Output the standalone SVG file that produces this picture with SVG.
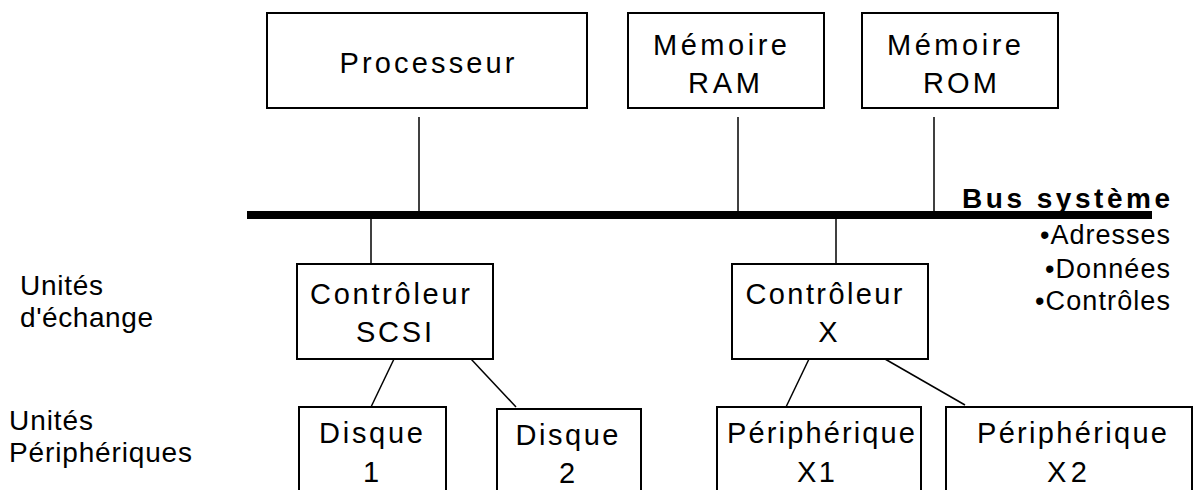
<svg xmlns="http://www.w3.org/2000/svg" width="1194" height="490" viewBox="0 0 1194 490">
  <style>
    .box { fill: #ffffff; stroke: #000000; stroke-width: 2; }
    .wire { stroke: #000000; stroke-width: 1.5; fill: none; }
    .bus { stroke: #000000; stroke-width: 8; fill: none; }
    .t { font-family: "Liberation Sans", Arial, sans-serif; font-size: 29px; fill: #000000; text-anchor: middle; }
    .side { font-family: "Liberation Sans", Arial, sans-serif; font-size: 28px; fill: #000000; }
    .list { font-family: "Liberation Sans", Arial, sans-serif; font-size: 27px; fill: #000000; }
    .title { font-family: "Liberation Sans", Arial, sans-serif; font-size: 28px; font-weight: bold; fill: #000000; }
  </style>
  <rect width="1194" height="490" fill="#ffffff"/>

  <!-- connectors: system bus and links -->
  <g id="connectors">
    <line class="bus" x1="247" y1="215" x2="1152" y2="215"/>
    <line class="wire" x1="419" y1="117" x2="419" y2="211"/>
    <line class="wire" x1="738" y1="117" x2="738" y2="211"/>
    <line class="wire" x1="934" y1="117" x2="934" y2="211"/>
    <line class="wire" x1="371" y1="219" x2="371" y2="264"/>
    <line class="wire" x1="836" y1="219" x2="836" y2="264"/>
    <line class="wire" x1="394" y1="359" x2="371" y2="407"/>
    <line class="wire" x1="471" y1="359" x2="516" y2="407"/>
    <line class="wire" x1="809" y1="359" x2="786" y2="407"/>
    <line class="wire" x1="885" y1="359" x2="965" y2="405"/>
  </g>

  <g id="bus-label">
    <text class="title" x="962" y="208" textLength="208" lengthAdjust="spacing">Bus système</text>
    <text class="list" x="1040" y="244" textLength="130" lengthAdjust="spacing">•Adresses</text>
    <text class="list" x="1045" y="278" textLength="125" lengthAdjust="spacing">•Données</text>
    <text class="list" x="1035" y="310" textLength="135" lengthAdjust="spacing">•Contrôles</text>
  </g>

  <g id="level-labels">
    <text class="side" x="20" y="295" textLength="83" lengthAdjust="spacing">Unités</text>
    <text class="side" x="20" y="327" textLength="133" lengthAdjust="spacing">d'échange</text>
    <text class="side" x="9" y="430" textLength="84" lengthAdjust="spacing">Unités</text>
    <text class="side" x="9" y="462" textLength="183" lengthAdjust="spacing">Périphériques</text>
  </g>

  <g id="processeur">
    <rect class="box" x="267" y="13" width="320" height="95"/>
    <text class="t" x="427" y="73" textLength="175" lengthAdjust="spacing">Processeur</text>
  </g>

  <g id="memoire-ram">
    <rect class="box" x="628" y="13" width="196" height="95"/>
    <text class="t" x="720" y="55" textLength="134" lengthAdjust="spacing">Mémoire</text>
    <text class="t" x="724" y="93" textLength="72" lengthAdjust="spacing">RAM</text>
  </g>

  <g id="memoire-rom">
    <rect class="box" x="862" y="13" width="196" height="95"/>
    <text class="t" x="954" y="55" textLength="134" lengthAdjust="spacing">Mémoire</text>
    <text class="t" x="960" y="93" textLength="74" lengthAdjust="spacing">ROM</text>
  </g>

  <g id="controleur-scsi">
    <rect class="box" x="297" y="264" width="196" height="95"/>
    <text class="t" x="390" y="304" textLength="160" lengthAdjust="spacing">Contrôleur</text>
    <text class="t" x="394" y="342" textLength="76" lengthAdjust="spacing">SCSI</text>
  </g>

  <g id="controleur-x">
    <rect class="box" x="732" y="264" width="196" height="95"/>
    <text class="t" x="824" y="304" textLength="157" lengthAdjust="spacing">Contrôleur</text>
    <text class="t" x="828" y="342">X</text>
  </g>

  <g id="disque-1">
    <rect class="box" x="299" y="407" width="147" height="100"/>
    <text class="t" x="371" y="443" textLength="104" lengthAdjust="spacing">Disque</text>
    <text class="t" x="371" y="482">1</text>
  </g>

  <g id="disque-2">
    <rect class="box" x="497" y="409" width="144" height="100"/>
    <text class="t" x="567" y="445" textLength="103" lengthAdjust="spacing">Disque</text>
    <text class="t" x="567" y="483">2</text>
  </g>

  <g id="peripherique-x1">
    <rect class="box" x="717" y="407" width="204" height="100"/>
    <text class="t" x="821" y="443" textLength="188" lengthAdjust="spacing">Périphérique</text>
    <text class="t" x="816" y="482" textLength="38" lengthAdjust="spacing">X1</text>
  </g>

  <g id="peripherique-x2">
    <rect class="box" x="946" y="407" width="246" height="100"/>
    <text class="t" x="1072" y="443" textLength="190" lengthAdjust="spacing">Périphérique</text>
    <text class="t" x="1067" y="482" textLength="40" lengthAdjust="spacing">X2</text>
  </g>
</svg>
